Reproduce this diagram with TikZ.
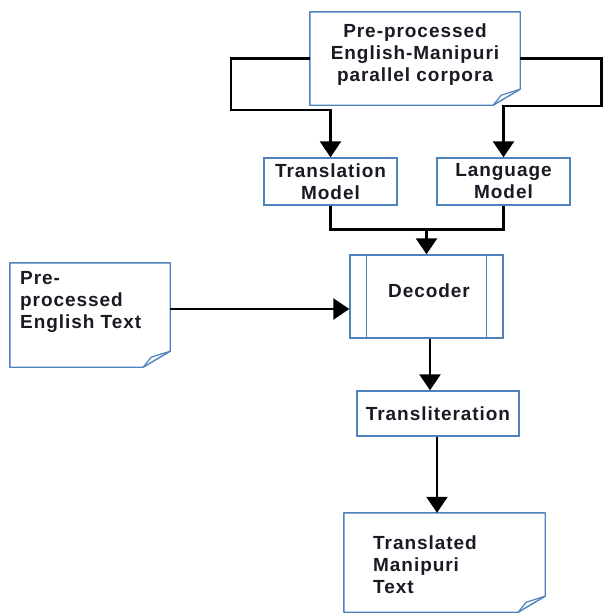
\documentclass[tikz,border=0pt]{standalone}
\usepackage{fontspec}
\setmainfont{Liberation Sans}[LetterSpace=5]
\usetikzlibrary{arrows.meta}
\definecolor{boxblue}{RGB}{79,129,189}
\definecolor{txt}{RGB}{26,26,36}
\newcommand\docoutline[1]{%
  \draw[boxblue,line width=1.4pt,line join=round]
    (#1.north west) -- (#1.north east) -- ([yshift=16pt]#1.south east)
    -- ([xshift=-27pt]#1.south east) -- (#1.south west) -- cycle;
  \draw[boxblue,line width=1.2pt,line join=round]
    ([yshift=16pt]#1.south east) -- ([xshift=-19pt,yshift=10pt]#1.south east)
    -- ([xshift=-27pt]#1.south east);}
\begin{document}
\begin{tikzpicture}[x=1pt,y=-1pt,
  font=\fontsize{19}{22}\selectfont\bfseries,
  box/.style={draw=boxblue,line width=1.4pt,rectangle,inner sep=0pt,align=center,text=txt},
  docbox/.style={rectangle,inner sep=0pt},
  lbl/.style={inner sep=0pt,text=txt},
  conn/.style={line width=2.5pt,-{Triangle[width=21pt,length=16pt]}},
  wire/.style={line width=2.5pt}]
\useasboundingbox (0,0) rectangle (603,614);

% nodes
\node[docbox,minimum width=210pt,minimum height=93pt] (corp) at (415,58.5) {};
\docoutline{corp}
\node[lbl,align=center] (corpt) at (415,55) {Pre-processed\\English-Manipuri\\parallel corpora};

\node[box,minimum width=133pt,minimum height=47pt] (tm) at (330.5,181.5) {Translation\\Model};
\node[box,minimum width=133pt,minimum height=47pt] (lm) at (503.5,181.5) {Language\\Model};

\node[box,minimum width=153pt,minimum height=83pt] (dec) at (426.5,296.5) {};
\draw[boxblue,line width=1.2pt] ([xshift=17pt]dec.north west) -- ([xshift=17pt]dec.south west);
\draw[boxblue,line width=1.2pt] ([xshift=-17pt]dec.north east) -- ([xshift=-17pt]dec.south east);
\node[lbl] (dect) at (429,291) {Decoder};

\node[docbox,minimum width=160pt,minimum height=104pt] (eng) at (90,315) {};
\docoutline{eng}
\node[lbl,align=left,anchor=west] (engt) at (20,302) {Pre-\\processed\\English Text};

\node[box,minimum width=162pt,minimum height=45pt] (tr) at (438,413.5) {Transliteration};

\node[docbox,minimum width=201pt,minimum height=99pt] (out) at (444.5,562.5) {};
\docoutline{out}
\node[lbl,align=left,anchor=west] (outt) at (373,565) {Translated\\Manipuri\\Text};

% connectors
\draw[conn,line join=miter] (corp.west) -| (231,110) -| (tm.north);
\draw[conn,line join=miter] (corp.east) -| (601.5,106) -| (lm.north);
\draw[wire,line join=miter] (tm.south) -- ++(0,24) -| (lm.south);
\coordinate (join) at (dec.north |- 0,229);
\draw[conn] (join) -- (dec.north);
\draw[conn] ([yshift=6pt]eng.east) -- ([yshift=6pt]eng.east -| dec.west);
\draw[conn] ([xshift=3.5pt]dec.south) -- ([xshift=3.5pt]dec.south |- tr.north);
\draw[conn] ([xshift=-1pt]tr.south) -- ([xshift=-1pt]tr.south |- out.north);
\end{tikzpicture}
\end{document}
